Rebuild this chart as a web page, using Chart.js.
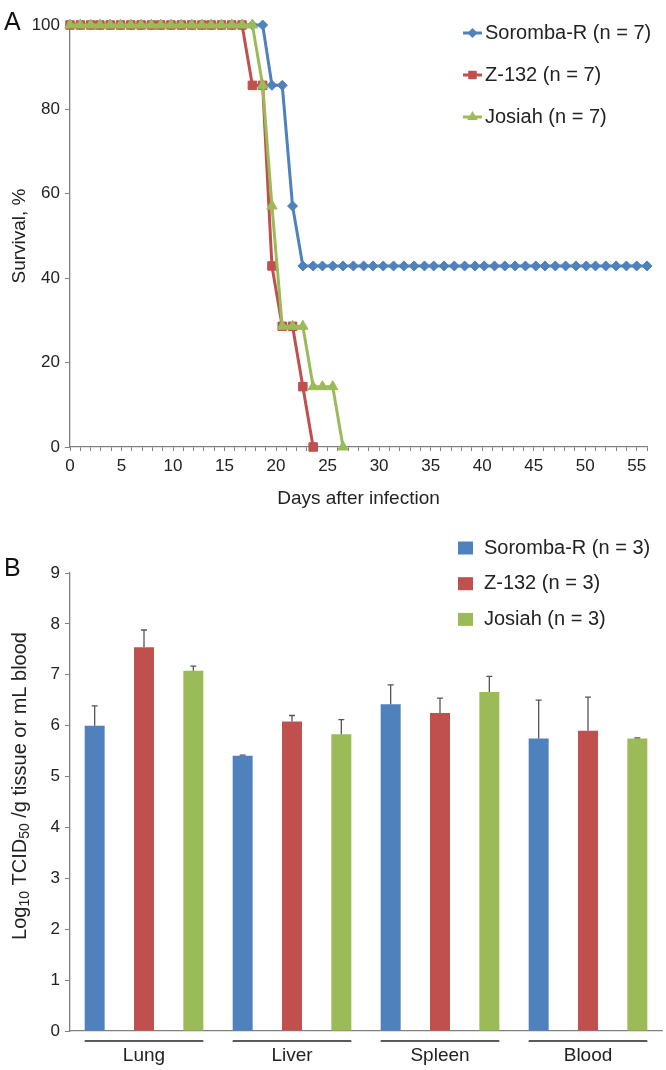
<!DOCTYPE html>
<html>
<head>
<meta charset="utf-8">
<title>Survival and viral titers</title>
<script src="https://cdn.jsdelivr.net/npm/chart.js@4.4.1/dist/chart.umd.min.js"></script>
<style>
  html, body { margin: 0; padding: 0; background: #fff; }
  #wrap { position: relative; width: 666px; height: 1070px; }
  .panel { position: absolute; left: 0; width: 666px; height: 535px; }
  #panelA { top: 0; }
  #panelB { top: 535px; }
</style>
</head>
<body>
<div id="wrap">
  <div class="panel" id="panelA"><canvas id="chartA" width="666" height="535"></canvas></div>
  <div class="panel" id="panelB"><canvas id="chartB" width="666" height="535"></canvas></div>
</div>
<script>
// Panel A - survival, days
var days = [0, 1.0, 2.0, 2.9, 3.9, 4.9, 5.9, 6.9, 7.9, 8.8, 9.8, 10.8, 11.8, 12.8, 13.7, 14.7,
  15.7, 16.7, 17.7, 18.7, 19.6, 20.6, 21.6, 22.6, 23.6, 24.5, 25.5, 26.5, 27.5, 28.5, 29.4,
  30.4, 31.4, 32.4, 33.4, 34.4, 35.3, 36.3, 37.3, 38.3, 39.3, 40.2, 41.2, 42.2, 43.2, 44.2,
  45.2, 46.1, 47.1, 48.1, 49.1, 50.1, 51.0, 52.0, 53.0, 54.0, 55.0, 56.0];
var survSoromba = [100, 100, 100, 100, 100, 100, 100, 100, 100, 100, 100, 100, 100, 100, 100,
  100, 100, 100, 100, 100, 85.7, 85.7, 57.1, 42.9, 42.9, 42.9, 42.9, 42.9, 42.9, 42.9, 42.9,
  42.9, 42.9, 42.9, 42.9, 42.9, 42.9, 42.9, 42.9, 42.9, 42.9, 42.9, 42.9, 42.9, 42.9, 42.9,
  42.9, 42.9, 42.9, 42.9, 42.9, 42.9, 42.9, 42.9, 42.9, 42.9, 42.9, 42.9];
var survZ132 = [100, 100, 100, 100, 100, 100, 100, 100, 100, 100, 100, 100, 100, 100, 100,
  100, 100, 100, 85.7, 85.7, 42.9, 28.6, 28.6, 14.3, 0];
var survJosiah = [100, 100, 100, 100, 100, 100, 100, 100, 100, 100, 100, 100, 100, 100, 100,
  100, 100, 100, 100, 85.7, 57.1, 28.6, 28.6, 28.6, 14.3, 14.3, 14.3, 0];
var survLabels = ['Soromba-R (n = 7)', 'Z-132 (n = 7)', 'Josiah (n = 7)'];

// Panel B - titers
var organs = ['Lung', 'Liver', 'Spleen', 'Blood'];
var titerSoromba = [6.0, 5.41, 6.42, 5.75];
var titerZ132 = [7.54, 6.08, 6.25, 5.90];
var titerJosiah = [7.08, 5.83, 6.66, 5.75];
var errSoromba = [0.39, 0.01, 0.38, 0.75];
var errZ132 = [0.34, 0.12, 0.29, 0.66];
var errJosiah = [0.09, 0.29, 0.31, 0.01];
var titerLabels = ['Soromba-R (n = 3)', 'Z-132 (n = 3)', 'Josiah (n = 3)'];

var BLUE = '#4f81bd', RED = '#c0504d', GREEN = '#9bbb59';
var AXIS = '#808080', TXT = '#222';

Chart.defaults.font.family = '"Liberation Sans", Arial, sans-serif';
Chart.defaults.color = TXT;

function pairs(values) {
  return values.map(function(v, i) { return { x: days[i], y: v }; });
}

function marker(ctx, style, x, y, r, color) {
  ctx.fillStyle = color;
  ctx.beginPath();
  if (style === 'rectRot') {
    ctx.moveTo(x, y - r); ctx.lineTo(x + r, y); ctx.lineTo(x, y + r); ctx.lineTo(x - r, y);
  } else if (style === 'rect') {
    var s = r * Math.SQRT1_2;
    ctx.rect(x - s, y - s, 2 * s, 2 * s);
  } else {
    ctx.moveTo(x, y - r); ctx.lineTo(x + r * 0.866, y + r / 2); ctx.lineTo(x - r * 0.866, y + r / 2);
  }
  ctx.closePath();
  ctx.fill();
}

function panelLetter(ctx, letter, y) {
  ctx.save();
  ctx.fillStyle = '#111';
  ctx.font = '25px "Liberation Sans", Arial, sans-serif';
  ctx.textBaseline = 'alphabetic';
  ctx.fillText(letter, 4, y);
  ctx.restore();
}

// legend with line + marker for panel A
var lineLegend = {
  id: 'lineLegend',
  afterDraw: function(chart) {
    var ctx = chart.ctx;
    panelLetter(ctx, 'A', 30);
    chart.data.datasets.forEach(function(ds, i) {
      var y = 33 + i * 42;
      ctx.save();
      ctx.strokeStyle = ds.borderColor;
      ctx.lineWidth = 3;
      ctx.beginPath(); ctx.moveTo(463, y); ctx.lineTo(482, y); ctx.stroke();
      marker(ctx, ds.pointStyle, 472.5, y, ds.pointRadius, ds.borderColor);
      ctx.fillStyle = TXT;
      ctx.font = '20px "Liberation Sans", Arial, sans-serif';
      ctx.textBaseline = 'middle';
      ctx.fillText(ds.label, 485, y);
      ctx.restore();
    });
  }
};

var chartA = new Chart(document.getElementById('chartA'), {
  type: 'line',
  data: {
    datasets: [
      { label: survLabels[0], data: pairs(survSoromba), borderColor: BLUE, backgroundColor: BLUE,
        pointStyle: 'rectRot', pointRadius: 5, order: 2 },
      { label: survLabels[1], data: pairs(survZ132), borderColor: RED, backgroundColor: RED,
        pointStyle: 'rect', pointRadius: 6, order: 1 },
      { label: survLabels[2], data: pairs(survJosiah), borderColor: GREEN, backgroundColor: GREEN,
        pointStyle: 'triangle', pointRadius: 6, order: 0 }
    ]
  },
  options: {
    responsive: false,
    animation: false,
    layout: { padding: { left: 0, right: 19, top: 25, bottom: 25 } },
    elements: {
      line: { borderWidth: 3, tension: 0 },
      point: { borderWidth: 1 }
    },
    datasets: { line: { clip: false } },
    plugins: { legend: { display: false }, tooltip: { enabled: false } },
    scales: {
      x: {
        type: 'linear', min: 0, max: 56,
        afterFit: function(s) { s.height = 63; },
        grid: { drawOnChartArea: false, tickLength: 4, color: AXIS },
        border: { color: AXIS, width: 1.3 },
        ticks: {
          stepSize: 1, autoSkip: false, maxRotation: 0, padding: 5, color: TXT, font: { size: 17 },
          callback: function(v) { return (v % 5 === 0 && v <= 55) ? v : ''; }
        },
        title: { display: true, text: 'Days after infection', color: TXT, font: { size: 19 }, padding: 0 }
      },
      y: {
        min: 0, max: 100,
        afterFit: function(s) { s.width = 70; },
        grid: { drawOnChartArea: false, tickLength: 5, color: AXIS },
        border: { color: AXIS, width: 1.3 },
        ticks: { stepSize: 20, padding: 5, color: TXT, font: { size: 17 } },
        title: { display: true, text: 'Survival, %', color: TXT, font: { size: 19 }, padding: { top: 8, bottom: 0 } }
      }
    }
  },
  plugins: [lineLegend]
});

// error bars, brackets under the groups, legend and y title for panel B
var titerExtras = {
  id: 'titerExtras',
  afterDatasetsDraw: function(chart) {
    var ctx = chart.ctx, yScale = chart.scales.y, xScale = chart.scales.x;
    ctx.save();
    ctx.strokeStyle = '#555';
    ctx.lineWidth = 1.3;
    chart.data.datasets.forEach(function(ds, i) {
      var meta = chart.getDatasetMeta(i);
      meta.data.forEach(function(bar, j) {
        var top = yScale.getPixelForValue(ds.data[j] + ds.err[j]);
        ctx.beginPath();
        ctx.moveTo(bar.x, bar.y); ctx.lineTo(bar.x, top);
        ctx.moveTo(bar.x - 3, top); ctx.lineTo(bar.x + 3, top);
        ctx.stroke();
      });
    });
    // group brackets
    var first = chart.getDatasetMeta(0), last = chart.getDatasetMeta(chart.data.datasets.length - 1);
    ctx.strokeStyle = '#5a5a5a';
    ctx.lineWidth = 2;
    organs.forEach(function(o, j) {
      var b0 = first.data[j], b2 = last.data[j];
      var yb = xScale.top + 10;
      ctx.beginPath();
      ctx.moveTo(b0.x - b0.width / 2, yb); ctx.lineTo(b2.x + b2.width / 2, yb);
      ctx.stroke();
    });
    ctx.restore();
  },
  afterDraw: function(chart) {
    var ctx = chart.ctx, area = chart.chartArea;
    panelLetter(ctx, 'B', 41);
    // legend
    chart.data.datasets.forEach(function(ds, i) {
      var y = 13 + i * 35.7;
      ctx.save();
      ctx.fillStyle = ds.backgroundColor;
      ctx.fillRect(458, y - 6.5, 15, 13);
      ctx.fillStyle = TXT;
      ctx.font = '20px "Liberation Sans", Arial, sans-serif';
      ctx.textBaseline = 'middle';
      ctx.fillText(ds.label, 484, y);
      ctx.restore();
    });
    // y title with subscripts
    var parts = [
      { t: 'Log', sub: false }, { t: '10', sub: true }, { t: ' TCID', sub: false },
      { t: '50', sub: true }, { t: ' /g tissue or mL blood', sub: false }
    ];
    var big = '20px "Liberation Sans", Arial, sans-serif';
    var small = '14px "Liberation Sans", Arial, sans-serif';
    ctx.save();
    var total = 0;
    parts.forEach(function(p) { ctx.font = p.sub ? small : big; p.w = ctx.measureText(p.t).width; total += p.w; });
    ctx.translate(20, (area.top + area.bottom) / 2 - 16);
    ctx.rotate(-Math.PI / 2);
    ctx.fillStyle = TXT;
    ctx.textBaseline = 'middle';
    var x = -total / 2;
    parts.forEach(function(p) {
      ctx.font = p.sub ? small : big;
      ctx.fillText(p.t, x, p.sub ? 5 : 0);
      x += p.w;
    });
    ctx.restore();
  }
};

var chartB = new Chart(document.getElementById('chartB'), {
  type: 'bar',
  data: {
    labels: organs,
    datasets: [
      { label: titerLabels[0], data: titerSoromba, err: errSoromba, backgroundColor: BLUE },
      { label: titerLabels[1], data: titerZ132, err: errZ132, backgroundColor: RED },
      { label: titerLabels[2], data: titerJosiah, err: errJosiah, backgroundColor: GREEN }
    ]
  },
  options: {
    responsive: false,
    animation: false,
    layout: { padding: { left: 0, right: 4, top: 38, bottom: 0 } },
    datasets: { bar: { categoryPercentage: 1, barPercentage: 0.405 } },
    plugins: { legend: { display: false }, tooltip: { enabled: false } },
    scales: {
      x: {
        afterFit: function(s) { s.height = 39; },
        grid: { display: false },
        border: { display: true, color: AXIS, width: 1.3 },
        ticks: { padding: 5, color: TXT, font: { size: 19 } }
      },
      y: {
        min: 0, max: 9,
        afterFit: function(s) { s.width = 70; },
        grid: { drawOnChartArea: false, tickLength: 5, color: AXIS },
        border: { color: AXIS, width: 1.3 },
        ticks: { stepSize: 1, padding: 5, color: TXT, font: { size: 17 } }
      }
    }
  },
  plugins: [titerExtras]
});
</script>
</body>
</html>
